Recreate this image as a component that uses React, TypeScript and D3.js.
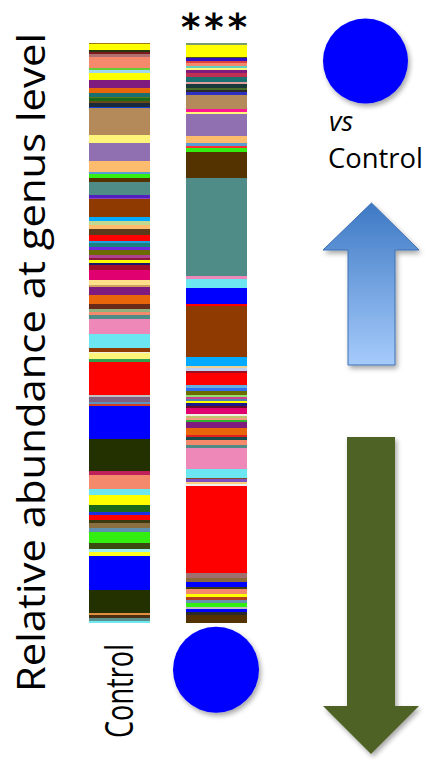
import React from "react";
import * as d3 from "d3";

const groups = ["Control", "Treated"];

const controlColors = [
  "#9c7a1a", "#ffff00", "#24380e", "#7a1a1a", "#b07070", "#f4896b", "#66cc33", "#a0d8f0",
  "#ffff00", "#7f1a7f", "#e8650a", "#1a7070", "#5a7a1a", "#1a6a1a", "#6b4a1a", "#1a2a3a",
  "#1040d0", "#b58a5a", "#fff47a", "#9070b0", "#fdbb6e", "#5a9bd5", "#33ee11", "#553300",
  "#4f8c88", "#5020c0", "#9040c0", "#8f3a00", "#00aaff", "#c0d890", "#fdbb6e", "#5a3a1a",
  "#ff0000", "#20a0e0", "#1a8080", "#6a2ae0", "#6b6b00", "#b04090", "#8a1a3a", "#ffff00",
  "#1a1a6a", "#a0102a", "#e0006f", "#ffe08a", "#d0a060", "#7f1a7f", "#e8650a", "#6a2a1a",
  "#90b080", "#f4896b", "#4f8c88", "#ee88b8", "#6ce6f0", "#8f3a00", "#f0f0e0", "#fff47a",
  "#30a050", "#ff0000", "#c0c0c0", "#806080", "#6090c0", "#d04020", "#0000ff", "#233000",
  "#c0205a", "#f4896b", "#6ce6f0", "#ffff00", "#1a6a1a", "#1a30e0", "#ff0000", "#3a3a10",
  "#8a7040", "#6090b0", "#33ee11", "#3a4a10", "#a0f0f0", "#ffff20", "#0000ff", "#233000",
  "#e09040", "#4a3010", "#5a9090", "#70e8f0",
];
const controlValues = [
  1.5, 6, 1.7, 1.7, 2.7, 11.7, 1.7, 3.3,
  6.3, 8.7, 5, 3.3, 1.7, 2.7, 2.3, 3.3,
  1.7, 26.7, 7.7, 18.3, 10.7, 2.3, 3.7, 4.7,
  13, 2.3, 1, 18.3, 4.3, 3.3, 4, 6,
  6.7, 2.3, 3.3, 3.3, 5, 2.7, 2.3, 3.3,
  1.7, 5, 10, 5, 2.3, 7.7, 9.3, 4.7,
  3.3, 2.7, 4.3, 15, 14, 3.3, 1.7, 6,
  2.3, 33.3, 1.7, 5, 2.3, 2, 33.3, 32.3,
  4, 13.3, 6, 10.7, 7, 3, 5, 2.7,
  5, 4.3, 10.7, 5.7, 3.3, 4.3, 33.3, 23.3,
  1.7, 3.3, 3.3, 1.7,
];

const treatedColors = [
  "#7a9a70", "#ffff00", "#4a4a2a", "#3010c0", "#e04040", "#f4896b", "#60d0c0", "#fff47a",
  "#7f1a7f", "#c03050", "#1a7070", "#e0a0a0", "#1a3a3a", "#4a6a2a", "#2a2a2a", "#3030c0",
  "#b58a5a", "#ff1493", "#fff47a", "#9070b0", "#fdbb6e", "#5a9bd5", "#ff3030", "#33ee11",
  "#553300", "#4f8c88", "#ee88b8", "#6ce6f0", "#0000ff", "#ff0000", "#8f3a00", "#00aaff",
  "#f0d090", "#c0d0f0", "#9a1020", "#ff0000", "#60b0e0", "#3070f0", "#6b6b00", "#90e070",
  "#d04090", "#5080b0", "#ffff00", "#1a1a8a", "#6a0a2a", "#e0006f", "#f0f0e0", "#c0c070",
  "#f0a080", "#30b030", "#7f1a7f", "#e8650a", "#e02020", "#1a4a4a", "#f4896b", "#4f8c88",
  "#ee88b8", "#6ce6f0", "#8a4a20", "#8050c0", "#ffd080", "#f0f0f0", "#ff0000", "#a07070",
  "#8a6a3a", "#0000ff", "#3a3a10", "#f4896b", "#ffff00", "#b04020", "#6a90b0", "#33ee11",
  "#c0c0c0", "#0000ff", "#2a2a2a", "#553300",
];
const treatedValues = [
  1.7, 12, 1.7, 2.7, 1.7, 3, 2, 2.3,
  3.3, 3.3, 5, 2.7, 3.3, 2.3, 2.3, 2.7,
  14.3, 2.3, 2.7, 21.3, 7.7, 2.7, 2.3, 3.3,
  26, 98.1, 3.3, 8.7, 16.7, 1.3, 51.6, 8.7,
  2.3, 2.3, 2, 12.3, 3.3, 2.3, 4.3, 1.7,
  2.3, 1.7, 2, 3.3, 2.3, 5.7, 2, 2.3,
  2.3, 2, 5.7, 6.7, 2.3, 2.7, 5, 3.3,
  21, 8.6, 1.3, 3.3, 2, 1.7, 87.3, 5,
  4, 4.3, 2.3, 5.3, 2.3, 3.3, 3.3, 4.3,
  1.7, 3.3, 2.3, 8.3,
];

const yLabel = "Relative abundance at genus level";
const xLabel = "Control";
const significance = "***";
const compareItalic = "vs";
const compareGroup = "Control";

const W = 427;
const H = 760;
const TOP = 43;
const BOTTOM = 623;

function StackedBar({ group, values, colors, x }: any) {
  const total = d3.sum(values);
  const y = d3.scaleLinear().domain([0, total]).range([TOP, BOTTOM]);
  const ends = Array.from(d3.cumsum(values));
  const x0 = x(group);
  const bw = x.bandwidth();
  return (
    <g>
      {values.map((v: number, i: number) => {
        const s = ends[i] - v;
        const y0 = y(s);
        const y1 = y(ends[i]);
        return (
          <rect
            key={i}
            x={x0}
            y={y0}
            width={bw}
            height={Math.max(0, y1 - y0)}
            fill={colors[i]}
            shapeRendering="crispEdges"
          />
        );
      })}
    </g>
  );
}

export default function App() {
  const x = d3
    .scaleBand<string>()
    .domain(groups)
    .range([89, 246.5])
    .paddingInner(0.368)
    .paddingOuter(0);

  const treatedCenter = (x("Treated") as number) + x.bandwidth() / 2;

  const upArrow = [
    [371.5, 203],
    [419, 250],
    [395, 250],
    [395, 365],
    [348, 365],
    [348, 250],
    [323, 250],
  ];
  const downArrow = [
    [347, 437],
    [395, 437],
    [395, 706],
    [419, 706],
    [371, 754],
    [323, 706],
    [347, 706],
  ];
  const line = d3.line();

  return (
    <svg
      width={W}
      height={H}
      viewBox={`0 0 ${W} ${H}`}
      style={{ position: "absolute", left: 0, top: 0, display: "block", background: "#fff" }}
    >
      <defs>
        <filter id="shadow" x="-30%" y="-30%" width="160%" height="160%">
          <feDropShadow dx="2" dy="3" stdDeviation="2.5" floodColor="#000" floodOpacity="0.35" />
        </filter>
        <linearGradient id="upGrad" x1="0" y1="0" x2="0" y2="1">
          <stop offset="0%" stopColor="#3d79c4" />
          <stop offset="100%" stopColor="#a6cbfb" />
        </linearGradient>
      </defs>

      <rect x={0} y={0} width={W} height={H} fill="#fff" />

      <StackedBar group="Control" values={controlValues} colors={controlColors} x={x} />
      <StackedBar group="Treated" values={treatedValues} colors={treatedColors} x={x} />

      <text
        x={treatedCenter}
        y={40}
        textAnchor="middle"
        fontFamily="DejaVu Sans"
        fontWeight="bold"
        fontSize={37}
        letterSpacing={4}
        fill="#000"
      >
        {significance}
      </text>

      <text
        transform="translate(45,362.5) rotate(-90)"
        textAnchor="middle"
        fontFamily="Open Sans"
        fontSize={38}
        textLength={659}
        lengthAdjust="spacingAndGlyphs"
        fill="#000"
      >
        {yLabel}
      </text>

      <text
        transform="translate(133,691) rotate(-90)"
        textAnchor="middle"
        fontFamily="Open Sans"
        fontSize={38}
        textLength={94}
        lengthAdjust="spacingAndGlyphs"
        fill="#000"
      >
        {xLabel}
      </text>

      <circle cx={treatedCenter} cy={669.7} r={43} fill="#0000ff" filter="url(#shadow)" />
      <circle cx={365.5} cy={61} r={42.5} fill="#0000ff" filter="url(#shadow)" />

      <text x={329} y={131} fontFamily="Open Sans" fontStyle="italic" fontSize={27} fill="#000">
        {compareItalic}
      </text>
      <text
        x={328}
        y={168}
        fontFamily="Open Sans"
        fontSize={28}
        textLength={95}
        lengthAdjust="spacingAndGlyphs"
        fill="#000"
      >
        {compareGroup}
      </text>

      <path
        d={line(upArrow as any) + "Z"}
        fill="url(#upGrad)"
        stroke="#3f70b5"
        strokeWidth={1}
        filter="url(#shadow)"
      />
      <path d={line(downArrow as any) + "Z"} fill="#4f6228" filter="url(#shadow)" />
    </svg>
  );
}
